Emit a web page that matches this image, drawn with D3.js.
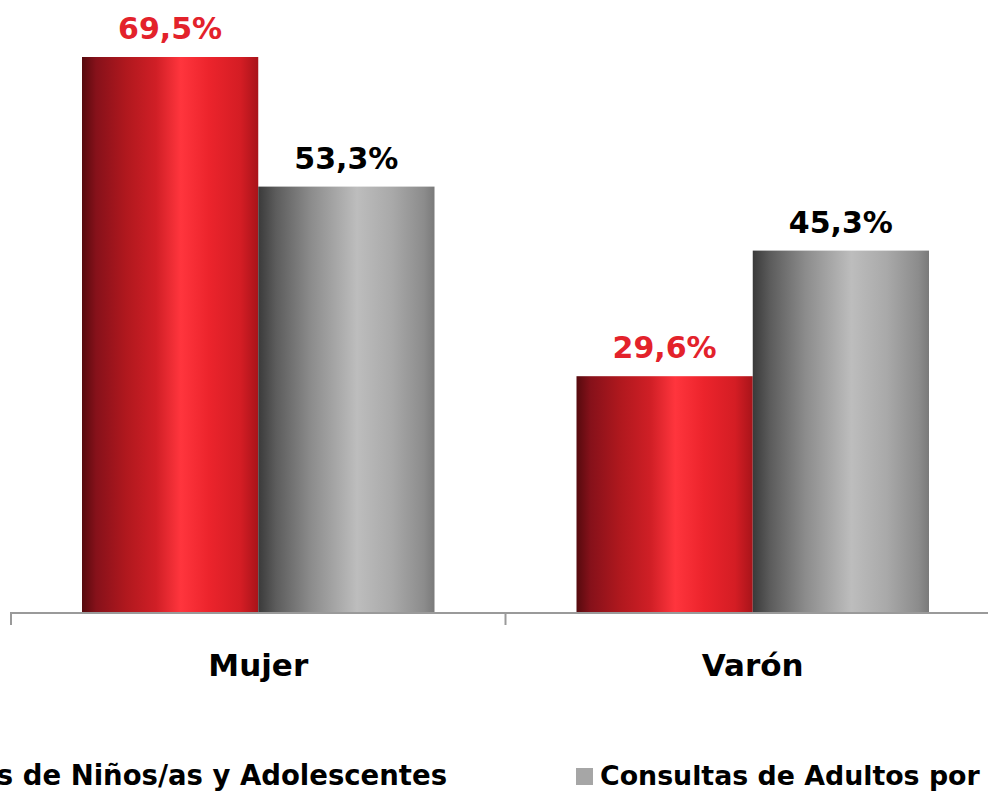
<!DOCTYPE html>
<html>
<head>
<meta charset="utf-8">
<script src="https://cdn.jsdelivr.net/npm/d3@7"></script>
<style>
  html, body { margin: 0; padding: 0; background: #ffffff; }
  svg { display: block; font-family: "Century Gothic", "DejaVu Sans", sans-serif; }
</style>
</head>
<body>
<svg id="chart" width="988" height="791"></svg>
<script>
// Share of consultations by sex, for two patient groups
const categories = ["Mujer", "Varón"];
const seriesNames = ["Consultas de Niños/as y Adolescentes", "Consultas de Adultos por"];
const ninosValues = [69.5, 29.6];
const adultosValues = [53.3, 45.3];
const valueLabels = [["69,5%", "29,6%"], ["53,3%", "45,3%"]];

const seriesValues = [ninosValues, adultosValues];
const rows = categories.map((c, i) => ({
  category: c,
  items: seriesNames.map((s, j) => ({ series: s, index: j, value: seriesValues[j][i], label: valueLabels[j][i] }))
}));

const svg = d3.select("#chart");
const baseY = 613;

const x0 = d3.scaleBand().domain(categories).range([11, 1000]).padding(0);
const x1 = d3.scaleBand().domain(seriesNames).range([71, x0.bandwidth() - 71]).padding(0);
const y = d3.scaleLinear().domain([0, 80]).range([baseY, baseY - 640]);

// Cylinder-like horizontal gradients for the bars
const defs = svg.append("defs");
const gradSpecs = [
  { id: "gradRed", stops: [[0, "#560a0e"], [0.08, "#86111a"], [0.25, "#b0181e"], [0.42, "#d01f26"], [0.56, "#ff353d"], [0.72, "#ec242c"], [0.9, "#d41d24"], [1, "#a8141a"]] },
  { id: "gradGray", stops: [[0, "#3a3a3a"], [0.1, "#5c5c5c"], [0.3, "#8c8c8c"], [0.56, "#bdbdbd"], [0.76, "#a9a9a9"], [0.94, "#8c8c8c"], [1, "#7a7a7a"]] }
];
gradSpecs.forEach(g => {
  const lg = defs.append("linearGradient").attr("id", g.id).attr("x1", "0").attr("x2", "1").attr("y1", "0").attr("y2", "0");
  g.stops.forEach(s => lg.append("stop").attr("offset", s[0]).attr("stop-color", s[1]));
});
const fills = ["url(#gradRed)", "url(#gradGray)"];
const labelColors = ["#e3222b", "#000000"];

const groups = svg.selectAll("g.cat").data(rows).join("g")
  .attr("class", "cat")
  .attr("transform", d => `translate(${x0(d.category)},0)`);

groups.selectAll("rect").data(d => d.items).join("rect")
  .attr("x", d => x1(d.series))
  .attr("width", x1.bandwidth())
  .attr("y", d => y(d.value))
  .attr("height", d => y(0) - y(d.value))
  .attr("fill", d => fills[d.index]);

groups.selectAll("text.val").data(d => d.items).join("text")
  .attr("class", "val")
  .attr("x", d => x1(d.series) + x1.bandwidth() / 2)
  .attr("y", d => y(d.value) - 18)
  .attr("text-anchor", "middle")
  .attr("font-size", 30)
  .attr("font-weight", "bold")
  .attr("fill", d => labelColors[d.index])
  .text(d => d.label);

// Category axis along the baseline
const axis = d3.axisBottom(x0).tickSize(12).tickFormat("");
const axisG = svg.append("g").attr("transform", `translate(0,${baseY})`).call(axis);
axisG.select(".domain").attr("stroke", "#9a9a9a").attr("stroke-width", 2).attr("d", `M${x0.range()[0]},12V0H${x0.range()[1]}V12`);
axisG.selectAll(".tick").remove();
axisG.selectAll("line.sep").data(x0.domain().concat(["end"])).join("line")
  .attr("class", "sep")
  .attr("x1", (d, i) => i < categories.length ? x0(d) : x0.range()[1])
  .attr("x2", (d, i) => i < categories.length ? x0(d) : x0.range()[1])
  .attr("y1", 0).attr("y2", 12)
  .attr("stroke", "#9a9a9a").attr("stroke-width", 2);

svg.selectAll("text.cat").data(categories).join("text")
  .attr("class", "cat")
  .attr("x", d => x0(d) + x0.bandwidth() / 2)
  .attr("y", 676)
  .attr("text-anchor", "middle")
  .attr("font-size", 31)
  .attr("font-weight", "bold")
  .attr("fill", "#000")
  .text(d => d);

// Legend
const legendColors = ["#d0202a", "#a6a6a6"];
const legend = svg.append("g");
legend.append("rect").attr("x", -40).attr("y", 768).attr("width", 17).attr("height", 17).attr("fill", legendColors[0]);
legend.append("text").attr("x", 447).attr("y", 785).attr("text-anchor", "end")
  .attr("font-size", 27.5).attr("font-weight", "bold").text(seriesNames[0]);
legend.append("rect").attr("x", 576).attr("y", 768).attr("width", 17).attr("height", 17).attr("fill", legendColors[1]);
legend.append("text").attr("x", 600).attr("y", 785)
  .attr("font-size", 26.8).attr("font-weight", "bold").text(seriesNames[1]);
</script>
</body>
</html>
